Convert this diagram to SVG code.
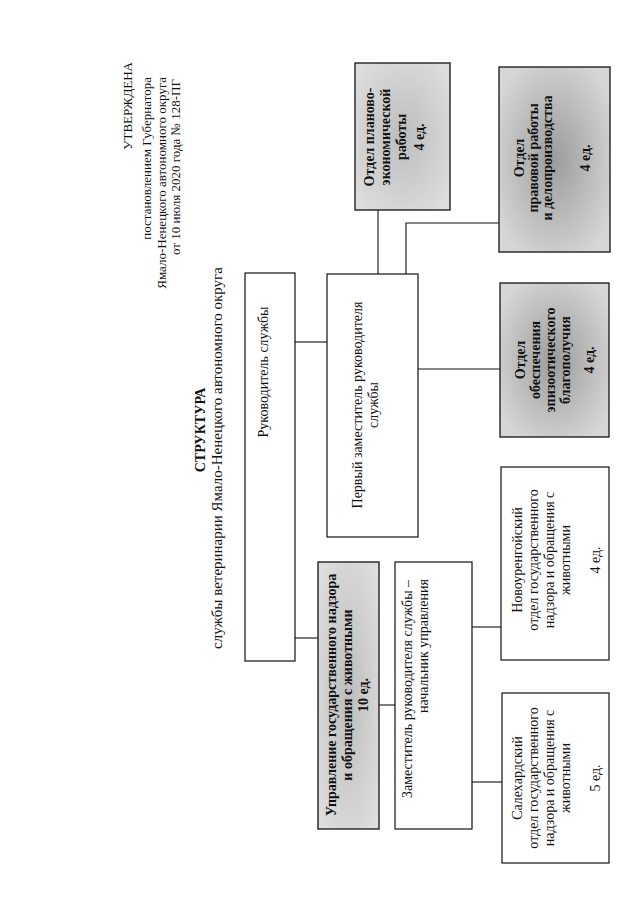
<svg xmlns="http://www.w3.org/2000/svg" width="640" height="905" viewBox="0 0 640 905">
<style>
text{font-family:"Liberation Serif","Times New Roman",serif;fill:#111}
.t13{font-size:13px}
.t14{font-size:14px}
.t15{font-size:15px}
.b{font-weight:bold}
.box{fill:#fff;stroke:#111;stroke-width:1.2}
.gbox{stroke:#222;stroke-width:1.4}
.con line,.con polyline{stroke:#111;stroke-width:1.1;fill:none}
</style>
<defs>
<radialGradient id="g1" cx="50%" cy="50%" r="60%">
<stop offset="0" stop-color="#9c9c9c"/><stop offset="1" stop-color="#d6d6d6"/>
</radialGradient>
<radialGradient id="g2" cx="50%" cy="50%" r="65%">
<stop offset="0" stop-color="#bdbdbd"/><stop offset="1" stop-color="#dedede"/>
</radialGradient>
</defs>

<g id="header">
<text class="t13" text-anchor="end" transform="translate(132,62) rotate(-90)">УТВЕРЖДЕНА</text>
<text class="t13" text-anchor="end" transform="translate(151,77) rotate(-90)">постановлением Губернатора</text>
<text class="t13" text-anchor="end" transform="translate(166,77) rotate(-90)">Ямало-Ненецкого автономного округа</text>
<text class="t13" text-anchor="end" transform="translate(180,79) rotate(-90)">от 10 июля 2020 года № 128-ПГ</text>
</g>
<g id="title">
<text class="t14 b" text-anchor="middle" transform="translate(205,430) rotate(-90)">СТРУКТУРА</text>
<text class="t15" text-anchor="middle" transform="translate(222,458) rotate(-90)">службы ветеринарии Ямало-Ненецкого автономного округа</text>
</g>

<g class="con" id="connectors">
<line x1="295" y1="342" x2="327" y2="342"/>
<line x1="295" y1="638" x2="318" y2="638"/>
<line x1="379" y1="705" x2="395" y2="705"/>
<line x1="472" y1="627" x2="501" y2="627"/>
<line x1="472" y1="782" x2="502" y2="782"/>
<line x1="378" y1="210" x2="378" y2="274"/>
<polyline points="406,274 406,223 499,223"/>
<line x1="418" y1="369" x2="500" y2="369"/>
</g>

<g id="n-head">
<rect class="box" x="245" y="273" width="50" height="388"/>
<text class="t14" text-anchor="middle" transform="translate(268,372) rotate(-90)">Руководитель службы</text>
</g>
<g id="n-first">
<rect class="box" x="327" y="274" width="91" height="263"/>
<text class="t14" text-anchor="middle" transform="translate(362,405) rotate(-90)">Первый заместитель руководителя</text>
<text class="t14" text-anchor="middle" transform="translate(378,405) rotate(-90)">службы</text>
</g>
<g id="n-plan">
<rect class="gbox" x="355" y="63" width="95" height="147" fill="url(#g2)"/>
<text class="t14 b" text-anchor="middle" transform="translate(374,137) rotate(-90)">Отдел планово-</text>
<text class="t14 b" text-anchor="middle" transform="translate(390,137) rotate(-90)">экономической</text>
<text class="t14 b" text-anchor="middle" transform="translate(406,137) rotate(-90)">работы</text>
<text class="t14 b" text-anchor="middle" transform="translate(424,137) rotate(-90)">4 ед.</text>
</g>
<g id="n-legal">
<rect class="gbox" x="499" y="67" width="111" height="185" fill="url(#g1)"/>
<text class="t14 b" text-anchor="middle" transform="translate(524,158) rotate(-90)">Отдел</text>
<text class="t14 b" text-anchor="middle" transform="translate(538,158) rotate(-90)">правовой работы</text>
<text class="t14 b" text-anchor="middle" transform="translate(552,158) rotate(-90)">и делопроизводства</text>
<text class="t14 b" text-anchor="middle" transform="translate(590,158) rotate(-90)">4 ед.</text>
</g>
<g id="n-epi">
<rect class="gbox" x="500" y="283" width="109" height="154" fill="url(#g1)"/>
<text class="t14 b" text-anchor="middle" transform="translate(525,360) rotate(-90)">Отдел</text>
<text class="t14 b" text-anchor="middle" transform="translate(540,360) rotate(-90)">обеспечения</text>
<text class="t14 b" text-anchor="middle" transform="translate(555,360) rotate(-90)">эпизоотического</text>
<text class="t14 b" text-anchor="middle" transform="translate(570,360) rotate(-90)">благополучия</text>
<text class="t14 b" text-anchor="middle" transform="translate(594,360) rotate(-90)">4 ед.</text>
</g>
<g id="n-dept">
<rect class="gbox" x="318" y="562" width="61" height="267" fill="url(#g2)" stroke-width="2"/>
<text class="t14 b" text-anchor="middle" transform="translate(336,695) rotate(-90)">Управление государственного надзора</text>
<text class="t14 b" text-anchor="middle" transform="translate(352,695) rotate(-90)">и обращения с животными</text>
<text class="t14 b" text-anchor="middle" transform="translate(368,695) rotate(-90)">10 ед.</text>
</g>
<g id="n-deputy">
<rect class="box" x="395" y="562" width="77" height="267"/>
<text class="t14" text-anchor="middle" transform="translate(412,689) rotate(-90)">Заместитель руководителя службы –</text>
<text class="t14" text-anchor="middle" transform="translate(428,646) rotate(-90)">начальник управления</text>
</g>
<g id="n-nu">
<rect class="box" x="501" y="467" width="108" height="193"/>
<text class="t14" text-anchor="middle" transform="translate(522,560) rotate(-90)">Новоуренгойский</text>
<text class="t14" text-anchor="middle" transform="translate(538,560) rotate(-90)">отдел государственного</text>
<text class="t14" text-anchor="middle" transform="translate(554,560) rotate(-90)">надзора и обращения с</text>
<text class="t14" text-anchor="middle" transform="translate(570,560) rotate(-90)">животными</text>
<text class="t14" text-anchor="middle" transform="translate(600,560) rotate(-90)">4 ед.</text>
</g>
<g id="n-sl">
<rect class="box" x="502" y="693" width="107" height="170"/>
<text class="t14" text-anchor="middle" transform="translate(522,778) rotate(-90)">Салехардский</text>
<text class="t14" text-anchor="middle" transform="translate(538,778) rotate(-90)">отдел государственного</text>
<text class="t14" text-anchor="middle" transform="translate(554,778) rotate(-90)">надзора и обращения с</text>
<text class="t14" text-anchor="middle" transform="translate(570,778) rotate(-90)">животными</text>
<text class="t14" text-anchor="middle" transform="translate(600,778) rotate(-90)">5 ед.</text>
</g>
</svg>
